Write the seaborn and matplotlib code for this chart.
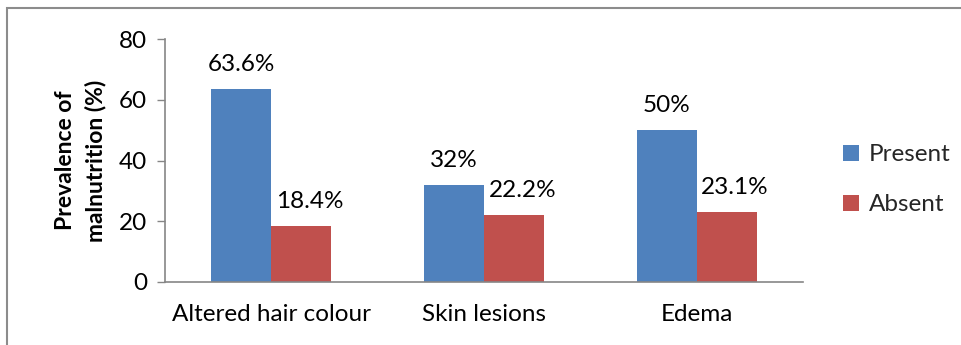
import matplotlib
matplotlib.use("Agg")
import matplotlib.pyplot as plt
import seaborn as sns
import pandas as pd
from matplotlib.patches import Rectangle

categories = ["Altered hair colour", "Skin lesions", "Edema"]
present = [63.6, 32, 50]
absent = [18.4, 22.2, 23.1]
present_labels = ["63.6%", "32%", "50%"]
absent_labels = ["18.4%", "22.2%", "23.1%"]
series = ["Present", "Absent"]
colors = ["#4F81BD", "#C0504D"]

df = pd.DataFrame({
    "category": categories * 2,
    "value": present + absent,
    "series": [series[0]] * 3 + [series[1]] * 3,
})

sns.set_theme(style="white")
plt.rcParams["font.family"] = ["Lato", "DejaVu Sans"]

FS = 17.5
W, H = 962, 345
fig = plt.figure(figsize=(W / 100, H / 100), dpi=100)
ax = fig.add_axes([165 / W, (H - 282) / H, (803 - 165) / W, (282 - 39) / H])

sns.barplot(data=df, x="category", y="value", hue="series", palette=colors,
            width=0.565, gap=0, saturation=1, ax=ax, legend=True,
            edgecolor="none", linewidth=0)

ax.set_xlim(-0.5, 2.5)
ax.set_ylim(0, 80)
ax.set_yticks([0, 20, 40, 60, 80])
ax.set_xticks([-0.5, 0.5, 1.5, 2.5])
ax.set_xticklabels([])
ax.set_xticks([0, 1, 2], minor=True)
ax.set_xticklabels(categories, minor=True)
ax.tick_params(axis="x", which="major", length=7, width=1, color="#868686", direction="out")
ax.tick_params(axis="x", which="minor", length=0, pad=16, labelsize=FS, labelcolor="black")
ax.tick_params(axis="y", length=6, width=1, color="#868686", direction="out",
               labelsize=FS, labelcolor="black", pad=7, left=True)
for s in ["top", "right"]:
    ax.spines[s].set_visible(False)
for s in ["left", "bottom"]:
    ax.spines[s].set_color("#868686")
    ax.spines[s].set_linewidth(1.2)

ax.set_xlabel("")
ax.set_ylabel("Prevalence of\nmalnutrition (%)", fontsize=16.5, fontweight="bold",
              color="black", labelpad=9, linespacing=1.5)

# labels
offsets = [0, 6]
for container, labels, dx in zip(ax.containers, [present_labels, absent_labels], offsets):
    for bar, lab in zip(container, labels):
        ax.annotate(lab, (bar.get_x() + bar.get_width() / 2, bar.get_height()),
                    xytext=(dx, 10), textcoords="offset points",
                    ha="center", va="bottom", fontsize=FS, color="black")

leg = ax.legend(loc="upper left", bbox_to_anchor=(831 / W, (H - 132) / H),
                bbox_transform=fig.transFigure, frameon=False, fontsize=FS,
                handlelength=0.65, handleheight=0.65, handletextpad=0.4,
                labelspacing=1.2, borderpad=0)

fig.patches.append(Rectangle((7 / W, -0.1), 1.2, 1.1 - 8 / H + 0.0,
                             transform=fig.transFigure, fill=False,
                             edgecolor="#8c8c8c", linewidth=1.5, zorder=10))

fig.savefig("out.png", dpi=100)
